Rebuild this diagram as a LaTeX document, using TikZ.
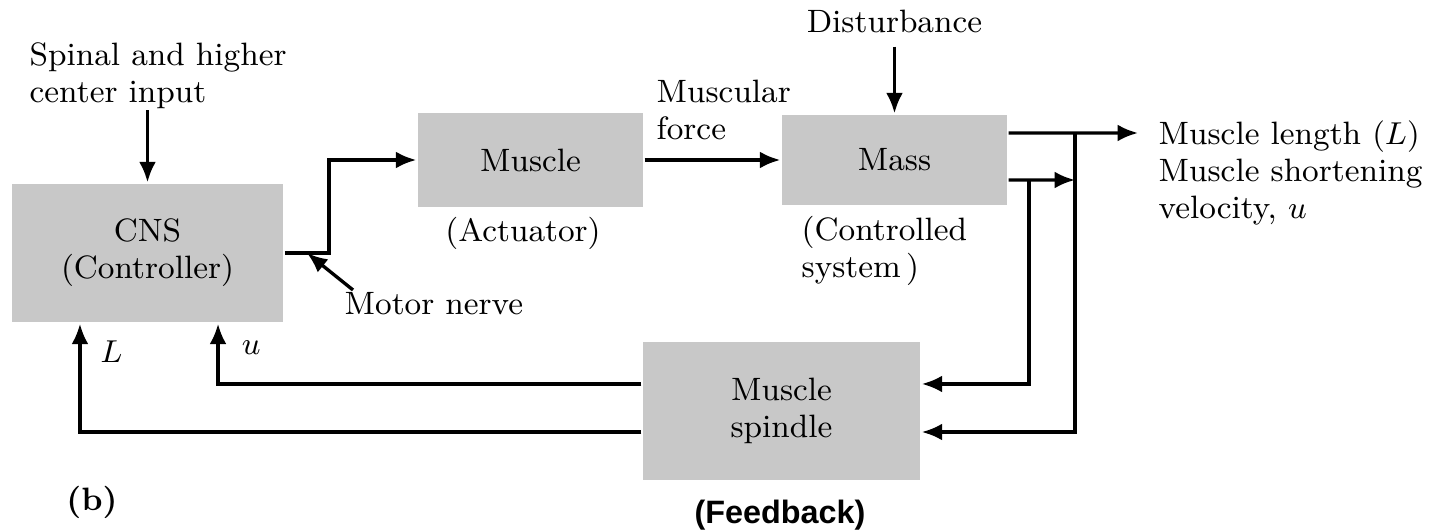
\documentclass[tikz,border=0pt]{standalone}
\usepackage{fontspec}
\setsansfont{Liberation Sans}
\usetikzlibrary{arrows.meta}
\definecolor{boxgray}{RGB}{200,200,200}
\tikzset{
    > = {Latex[length=5.8pt, width=4.8pt]},
    every path/.style = {->, line width=0.95pt},
    block/.style = {fill=boxgray, align=center, inner sep=0pt},
    note/.style = {align=left, inner sep=0pt}
}

\begin{document}
\begin{tikzpicture}[x=0.01cm, y=-0.01cm, font=\fontsize{9.2}{10.5}\selectfont]
    \useasboundingbox (0,0) rectangle (1430,531);

    \node[block, minimum width=2.71cm, minimum height=1.38cm] (cns) at (147.5,253) {CNS\\(Controller)};
    \node[block, minimum width=2.25cm, minimum height=0.93cm] (muscle) at (530.5,160) {Muscle};
    \node[block, minimum width=2.25cm, minimum height=0.90cm] (mass) at (894.5,160) {Mass};
    \node[block, minimum width=2.77cm, minimum height=1.38cm] (spindle) at (781.5,411) {Muscle\\spindle};

    \node[note, anchor=north west] (spinal) at (28,41) {Spinal and higher\\center input};
    \node[note, anchor=base west] (motor) at (343,315) {Motor nerve};
    \node[anchor=base] (actuator) at (523,242) {(Actuator)};
    \node[note, anchor=north west] (force) at (655,78) {Muscular\\force};
    \node[anchor=base] (dist) at (894.5,33) {Disturbance};
    \node[note, anchor=north west] (controlled) at (800,215) {(Controlled\\system\,)};
    \node[note, anchor=north west] (output) at (1157,119) {Muscle length $(L)$\\Muscle shortening\\velocity, $u$};
    \node (b) at (92,502) {\bfseries (b)};
    \node (feedback) at (780,515) {\sffamily\bfseries (Feedback)};

    \coordinate (bend) at (329,253);
    \coordinate (nerve) at (307,253);
    \coordinate (nervetail) at (353,290);
    \coordinate (outtip) at (1138,133);
    \coordinate (j1) at (1075,133);
    \coordinate (j2) at (1029,180);

    \draw (cns.north |- spinal.south) -- (cns.north);
    \draw (cns.east) -- (bend) |- (muscle.west);
    \draw (nervetail) -- (nerve);
    \draw (muscle.east) -- (mass.west);
    \draw (dist) -- (mass);
    \draw ([yshift=.27cm]mass.east) -- (outtip);
    \draw ([yshift=-.2cm]mass.east) -- (j1 |- j2);
    \draw (j2) |- ([yshift=.27cm]spindle.east);
    \draw (j1) |- ([yshift=-.21cm]spindle.east);
    \draw ([yshift=.27cm]spindle.west) -| ([xshift=.705cm]cns.south) node[pos=.8, right=3pt] {$u$};
    \draw ([yshift=-.21cm]spindle.west) -| ([xshift=-.675cm]cns.south) node[pos=.87, right=2pt] {$L$};
\end{tikzpicture}
\end{document}
